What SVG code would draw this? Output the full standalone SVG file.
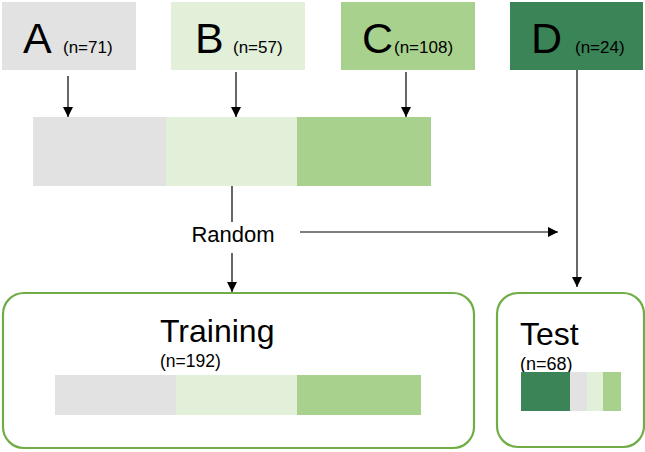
<svg xmlns="http://www.w3.org/2000/svg" width="645" height="452" viewBox="0 0 645 452">
<defs>
<marker id="ah" viewBox="0 0 10 10" refX="10" refY="5" markerWidth="10" markerHeight="10" markerUnits="userSpaceOnUse" orient="auto">
<path d="M0,0 L10,5 L0,10 Z" fill="#000"/>
</marker>
</defs>
<style>
.t{font-family:"Liberation Sans",Arial,sans-serif;fill:#000}
.big{font-size:43px}
.n{font-size:17px}
.c{stroke:#000;stroke-width:1.2;fill:none}
.box{fill:#fff;stroke:#70ad47;stroke-width:2.2}
.g{fill:#e3e2e2}.l{fill:#e2efd9}.m{fill:#a9d18e}.d{fill:#3a8457}
</style>
<rect width="645" height="452" fill="#fff"/>
<g id="nodeA"><rect class="g" x="2" y="2" width="134" height="68"/><text class="t big" x="23" y="53">A</text><text class="t n" x="63" y="53">(n=71)</text></g>
<g id="nodeB"><rect class="l" x="171" y="2" width="134" height="68"/><text class="t big" x="195" y="53">B</text><text class="t n" x="233" y="53">(n=57)</text></g>
<g id="nodeC"><rect class="m" x="341" y="2" width="134" height="68"/><text class="t big" x="362" y="53">C</text><text class="t n" x="394" y="53">(n=108)</text></g>
<g id="nodeD"><rect class="d" x="510" y="2" width="133" height="68"/><text class="t big" x="531" y="53">D</text><text class="t n" x="575" y="53">(n=24)</text></g>
<g id="combined"><rect class="g" x="33" y="117" width="133" height="69"/><rect class="l" x="166" y="117" width="131" height="69"/><rect class="m" x="297" y="117" width="134" height="69"/></g>
<g id="random"><text class="t" x="233" y="242" font-size="22" text-anchor="middle">Random</text></g>
<g id="training"><rect class="box" x="3" y="293" width="471" height="155" rx="21"/><text class="t" x="160" y="342" font-size="32">Training</text><text class="t" x="160" y="367" font-size="17.5">(n=192)</text><rect class="g" x="55" y="375" width="121" height="40"/><rect class="l" x="176" y="375" width="121" height="40"/><rect class="m" x="297" y="375" width="124" height="40"/></g>
<g id="test"><rect class="box" x="497" y="293" width="147" height="154" rx="21"/><text class="t" x="520" y="345" font-size="32">Test</text><text class="t" x="520" y="370" font-size="18">(n=68)</text><rect class="d" x="521" y="372" width="49" height="39"/><rect class="g" x="570" y="372" width="17" height="39"/><rect class="l" x="587" y="372" width="16" height="39"/><rect class="m" x="603" y="372" width="18" height="39"/></g>
<g id="connectors">
<line class="c" x1="68" y1="76" x2="68" y2="117" marker-end="url(#ah)"/>
<line class="c" x1="236" y1="72" x2="236" y2="117" marker-end="url(#ah)"/>
<line class="c" x1="406" y1="72" x2="406" y2="117" marker-end="url(#ah)"/>
<line class="c" x1="232" y1="186" x2="232" y2="222"/>
<line class="c" x1="232" y1="253" x2="232" y2="292" marker-end="url(#ah)"/>
<line class="c" x1="300" y1="232" x2="558" y2="232" marker-end="url(#ah)"/>
<line class="c" x1="577" y1="70" x2="577" y2="287" marker-end="url(#ah)"/>
</g>
</svg>
